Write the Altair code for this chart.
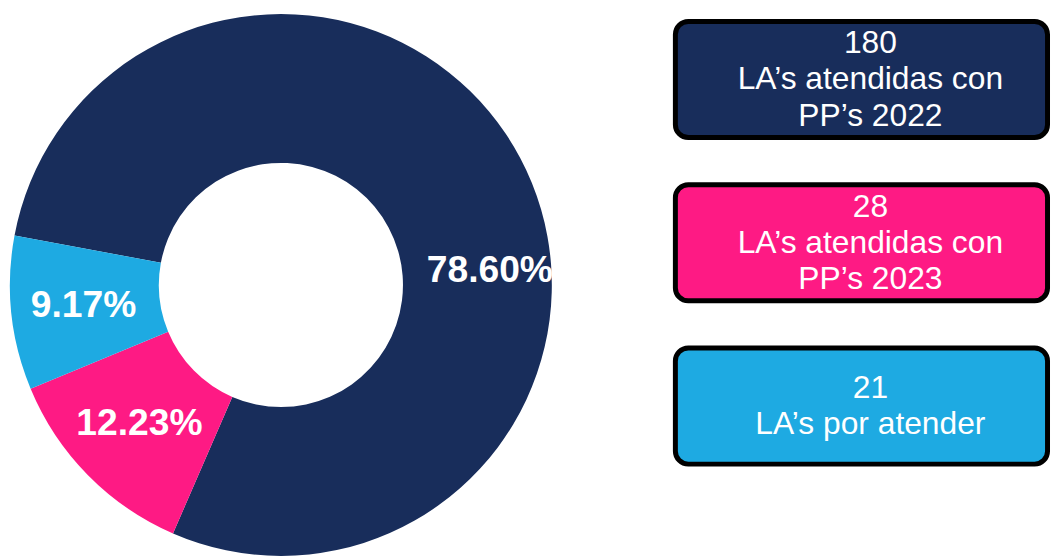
import math
import altair as alt
import pandas as pd

# ---- data ----
categories = ["PP 2022", "PP 2023", "Por atender"]
values = [180, 28, 21]
pct_labels = ["78.60%", "12.23%", "9.17%"]
box_counts = ["180", "28", "21"]
box_texts = [["LA’s atendidas con", "PP’s 2022"], ["LA’s atendidas con", "PP’s 2023"], ["LA’s por atender"]]
colors = ["#182d5b", "#fe1a84", "#1eaae2"]

df = pd.DataFrame({
    "cat": categories,
    "value": values,
    "pct": pct_labels,
    "idx": list(range(len(categories))),
})

LINE_H = 36.5
rows = []
for cat, cnt, lines in zip(categories, box_counts, box_texts):
    all_lines = [cnt] + lines
    n = len(all_lines)
    for k, t in enumerate(all_lines):
        rows.append({"cat": cat, "line": t, "k": k, "n": n})
lines_df = pd.DataFrame(rows)

W, H = 1051, 549
CX, CY = 275, 277
start = math.radians(-79.5)

# box band layout
Y0, Y1, PAD = 11.5, 457.5, 0.289
step = (Y1 - Y0) / (len(categories) - PAD)
half_band = step * (1 - PAD) / 2

color = alt.Color("cat:N", scale=alt.Scale(domain=categories, range=colors), legend=None)
theta = alt.Theta("value:Q", stack=True, scale=alt.Scale(range=[start, start + 2 * math.pi]))
order = alt.Order("idx:O")

base = alt.Chart(df)

arcs = base.mark_arc(outerRadius=273, innerRadius=123).encode(
    theta=theta, color=color, order=order,
    x=alt.value(CX), y=alt.value(CY),
)

labels = base.mark_text(
    font="Liberation Sans", fontSize=37.5, fontWeight="bold", color="white",
    align="center", baseline="middle",
).encode(
    theta=theta, order=order,
    text=alt.condition(alt.datum.idx > 0, alt.Text("pct:N"), alt.value("")),
    radius=alt.value(200), x=alt.value(CX), y=alt.value(CY),
)

label_main = base.mark_text(
    font="Liberation Sans", fontSize=37.5, fontWeight="bold", color="white",
    align="center", baseline="middle",
).encode(
    text="pct:N",
    theta=alt.value(math.radians(86.2)), radius=alt.value(211),
    x=alt.value(CX), y=alt.value(CY),
).transform_filter(alt.datum.idx == 0)

yband = alt.Y("cat:N", scale=alt.Scale(domain=categories, range=[Y0, Y1],
                                        paddingInner=PAD, paddingOuter=0), axis=None)

boxes = base.mark_rect(cornerRadius=13, stroke="black", strokeWidth=5).encode(
    y=yband, color=color,
    x=alt.value(672.5), x2=alt.value(1047.5),
)

box_text = alt.Chart(lines_df).mark_text(
    font="Liberation Sans", fontSize=32, color="white",
    align="center", baseline="middle",
).transform_calculate(
    off=f"{half_band} + (datum.k - (datum.n - 1) / 2) * {LINE_H}"
).encode(
    y=yband, yOffset=alt.YOffset("off:Q", scale=None),
    text="line:N", x=alt.value(869),
)

chart = alt.layer(arcs, labels, label_main, boxes, box_text).properties(
    width=W, height=H, padding=0, autosize=alt.AutoSizeParams(type="none"),
).configure_view(stroke=None)

chart.save("out.html", embed_options={"renderer": "svg", "actions": False})
